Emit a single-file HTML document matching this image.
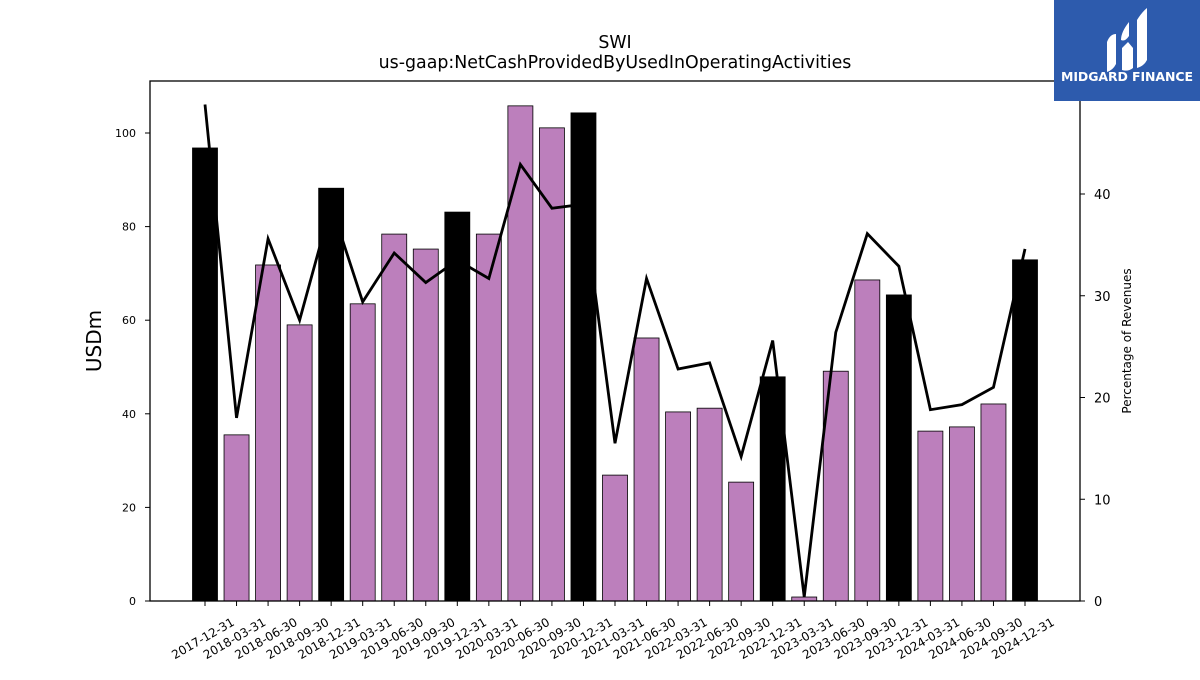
<!DOCTYPE html>
<html><head><meta charset="utf-8"><style>
body{margin:0;background:#fff;}
svg text{font-family:"DejaVu Sans","Liberation Sans",sans-serif;}
</style></head><body>
<svg id="chart" width="1200" height="675" viewBox="0 0 1200 675" xmlns="http://www.w3.org/2000/svg">
<rect width="1200" height="675" fill="#fff"/>
<text x="615" y="48" font-size="17.4" text-anchor="middle">SWI</text>
<text x="615" y="68" font-size="17.4" text-anchor="middle">us-gaap:NetCashProvidedByUsedInOperatingActivities</text>
<g id="bars"></g>
<g id="line"></g>
<rect x="150" y="81" width="930" height="520" fill="none" stroke="#000" stroke-width="1.3"/>
<g id="axes"></g>
<text transform="translate(101,341) rotate(-90)" font-size="20" text-anchor="middle">USDm</text>
<text transform="translate(1131,341) rotate(-90)" font-size="12" text-anchor="middle">Percentage of Revenues</text>
<g>
<rect x="1054" y="0" width="146" height="101" fill="#2d5bad"/>
<path d="M1107 42 q3-8 9-8 v30 q-3 6-9 8z M1121 40 q0-8 8-18 v14 q-4 6-8 4z M1122 48 l6 -6 l5 6 v20 q-5 4-11 2z M1137 20 q5-8 10-12 v52 q-3 6-10 8z" fill="#fff"/>
<text x="1127" y="81" font-size="12.5" font-weight="bold" fill="#fff" text-anchor="middle" textLength="132">MIDGARD FINANCE</text>
</g>
</svg>
<script>
const categories=["2017-12-31","2018-03-31","2018-06-30","2018-09-30","2018-12-31","2019-03-31","2019-06-30","2019-09-30","2019-12-31","2020-03-31","2020-06-30","2020-09-30","2020-12-31","2021-03-31","2021-06-30","2022-03-31","2022-06-30","2022-09-30","2022-12-31","2023-03-31","2023-06-30","2023-09-30","2023-12-31","2024-03-31","2024-06-30","2024-09-30","2024-12-31"];
const cashValues=[96.8,35.5,71.8,59.0,88.2,63.5,78.4,75.2,83.1,78.4,105.8,101.1,104.3,26.9,56.2,40.4,41.2,25.4,47.9,0.85,49.1,68.6,65.4,36.3,37.2,42.1,72.9];
const pctValues=[48.8,18.0,35.6,27.6,38.9,29.4,34.2,31.3,33.5,31.7,42.9,38.6,39.0,15.5,31.7,22.8,23.4,14.2,25.6,0.4,26.4,36.1,32.9,18.8,19.3,21.0,34.6];
const leftTicks=[0,20,40,60,80,100];
const rightTicks=[0,10,20,30,40];
const NS="http://www.w3.org/2000/svg";
const X0=205,X1=1025,BOT=601;
const xPos=i=>X0+(X1-X0)*i/(categories.length-1);
const yL=v=>BOT-v*4.68;
const yR=v=>BOT-v*10.175;
function mk(tag,attrs,parent){const e=document.createElementNS(NS,tag);for(const k in attrs)e.setAttribute(k,attrs[k]);parent.appendChild(e);return e;}
const bars=document.getElementById('bars'),line=document.getElementById('line'),axes=document.getElementById('axes');
const bw=25;
cashValues.forEach((v,i)=>{
 const dec=categories[i].endsWith('12-31');
 const r=mk('rect',{x:xPos(i)-bw/2,y:yL(v),width:bw,height:BOT-yL(v),fill:dec?'#000':'#bc7fbc',stroke:'#000','stroke-width':0.8},bars);
 
 
 const t=mk('line',{x1:xPos(i),x2:xPos(i),y1:BOT,y2:BOT+5,stroke:'#000'},axes);
 
 
 const lb=mk('text',{transform:`translate(${xPos(i)},${BOT+41}) rotate(-30)`,'font-size':12,'text-anchor':'middle'},axes);
 lb.textContent=categories[i];
 
 
});
const pts=pctValues.map((v,i)=>xPos(i)+','+yR(v)).join(' ');
const pl=mk('polyline',{points:pts,fill:'none',stroke:'#000','stroke-width':2.8},line);


leftTicks.forEach(v=>{
 const t=mk('line',{x1:145,x2:150,y1:yL(v),y2:yL(v),stroke:'#000'},axes);
 
 
 const lb=mk('text',{x:136,y:yL(v)+4,'font-size':11,'text-anchor':'end'},axes);
 lb.textContent=v;
 
 
});
rightTicks.forEach(v=>{
 const t=mk('line',{x1:1080,x2:1085,y1:yR(v),y2:yR(v),stroke:'#000'},axes);
 
 
 const lb=mk('text',{x:1094,y:yR(v)+5,'font-size':13},axes);
 lb.textContent=v;
 
 
});
</script>
</body></html>
